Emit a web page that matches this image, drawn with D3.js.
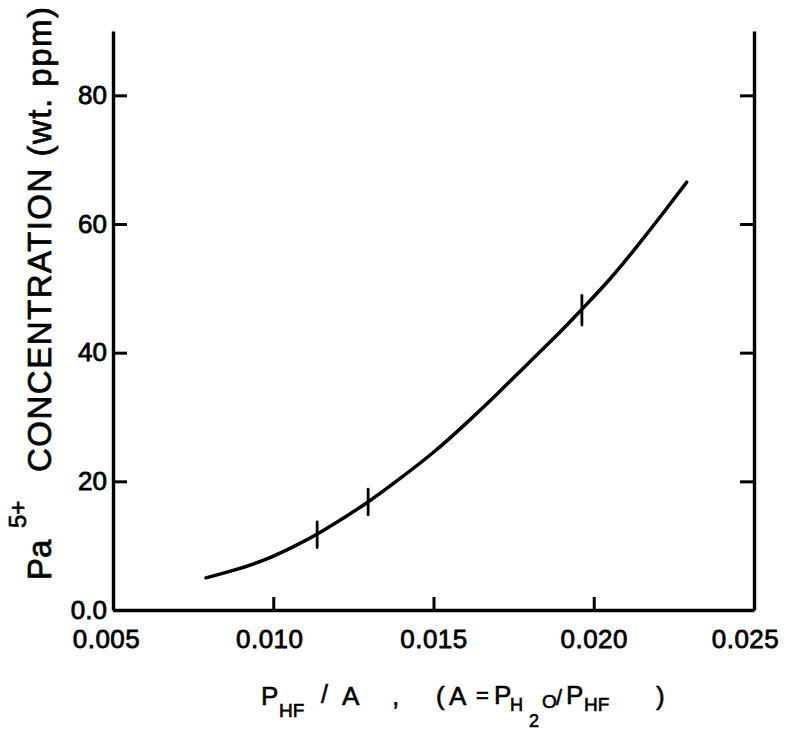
<!DOCTYPE html>
<html>
<head>
<meta charset="utf-8">
<script src="https://cdnjs.cloudflare.com/ajax/libs/d3/7.8.5/d3.min.js"></script>
<style>
    body { margin: 0; background: #fff; }
    svg text { font-family: "Liberation Sans", Arial, sans-serif; fill: #000; }
</style>
</head>
<body>
<svg id="chart" width="787" height="731"></svg>
<script>
// curve: P_HF/A vs Pa5+ concentration (wt. ppm)
var curveX = [0.0079, 0.0086, 0.0097, 0.0107, 0.0114, 0.0130, 0.0140, 0.0150, 0.0160,
              0.0170, 0.0180, 0.0190, 0.0196, 0.0205, 0.0213, 0.0222, 0.0229];
var curveY = [5.0, 5.9, 7.6, 10.0, 11.8, 16.8, 20.6, 24.4, 28.9,
              33.6, 38.6, 43.4, 46.6, 51.3, 56.2, 61.9, 66.5];

// vertical error marks sitting on the curve
var errX = [0.01137, 0.01296, 0.01963];
var errY = [11.7, 16.8, 46.6];
var errD = [2.0, 2.0, 2.3];

var xTicks = [0.005, 0.010, 0.015, 0.020, 0.025];
var yTicks = [0, 20, 40, 60, 80];

var svg = d3.select("#chart");

var x = d3.scaleLinear().domain([0.005, 0.025]).range([113, 754]);
var y = d3.scaleLinear().domain([0, 90]).range([610, 31]);

function styleAxis(g) {
    g.select(".domain").attr("stroke", "#000").attr("stroke-width", 3.4);
    g.selectAll(".tick line").attr("stroke", "#000").attr("stroke-width", 3);
    g.selectAll(".tick text")
        .style("font-size", "26px")
        .style("font-family", "Liberation Sans, Arial, sans-serif")
        .attr("fill", "#000")
        .attr("stroke", "#000")
        .attr("stroke-width", 0.8);
}

// left axis with labels
svg.append("g")
    .attr("transform", "translate(" + x(0.005) + ",0)")
    .call(d3.axisLeft(y)
        .tickValues(yTicks)
        .tickSizeInner(-14)
        .tickSizeOuter(0)
        .tickPadding(6)
        .tickFormat(function (d) { return d === 0 ? "0.0" : d; }))
    .call(styleAxis);

// right axis, ticks only
svg.append("g")
    .attr("transform", "translate(" + x(0.025) + ",0)")
    .call(d3.axisRight(y)
        .tickValues([20, 40, 60, 80])
        .tickSizeInner(-14)
        .tickSizeOuter(0)
        .tickFormat(""))
    .call(styleAxis);

// bottom axis
var xAxis = svg.append("g")
    .attr("transform", "translate(0," + y(0) + ")")
    .call(d3.axisBottom(x)
        .tickValues(xTicks)
        .tickSizeInner(-13)
        .tickSizeOuter(0)
        .tickPadding(20)
        .tickFormat(d3.format(".3f")))
    .call(styleAxis);
xAxis.selectAll(".tick text").attr("letter-spacing", 0.5);
// corner ticks coincide with the frame
xAxis.selectAll(".tick line").filter(function (d) { return d === 0.005 || d === 0.025; }).remove();
xAxis.selectAll(".tick text").filter(function (d) { return d === 0.005; }).attr("dx", -7);
xAxis.selectAll(".tick text").filter(function (d) { return d === 0.010; }).attr("dx", -4);
xAxis.selectAll(".tick text").filter(function (d) { return d === 0.025; }).attr("dx", -9);

// the fitted curve
var pts = curveX.map(function (d, i) { return [d, curveY[i]]; });
var line = d3.line()
    .x(function (d) { return x(d[0]); })
    .y(function (d) { return y(d[1]); })
    .curve(d3.curveBasis);

svg.append("path")
    .datum(pts)
    .attr("d", line)
    .attr("fill", "none")
    .attr("stroke", "#000")
    .attr("stroke-width", 3.5)
    .attr("stroke-linecap", "round");

// error marks
var errs = errX.map(function (d, i) { return {x: d, y: errY[i], e: errD[i]}; });
svg.selectAll(".err")
    .data(errs)
    .enter()
    .append("line")
    .attr("class", "err")
    .attr("x1", function (d) { return x(d.x); })
    .attr("x2", function (d) { return x(d.x); })
    .attr("y1", function (d) { return y(d.y + d.e); })
    .attr("y2", function (d) { return y(d.y - d.e); })
    .attr("stroke", "#000")
    .attr("stroke-width", 2.8)
    .attr("stroke-linecap", "round");

// y axis title (rotated)
var yt = svg.append("g").attr("transform", "translate(51,0) rotate(-90)");
yt.append("text")
    .attr("x", -580).attr("y", 0)
    .style("font-size", "33px")
    .attr("stroke", "#000").attr("stroke-width", 0.7)
    .text("Pa");
yt.append("text")
    .attr("x", -528).attr("y", -25)
    .style("font-size", "24px")
    .attr("stroke", "#000").attr("stroke-width", 0.7)
    .text("5+");
yt.append("text")
    .attr("x", -472).attr("y", 0)
    .attr("textLength", 465)
    .attr("lengthAdjust", "spacing")
    .style("font-size", "33px")
    .attr("stroke", "#000").attr("stroke-width", 0.7)
    .text("CONCENTRATION (wt. ppm)");

// x axis title, pieced together like the hand lettering
var xt = svg.append("g");
function piece(str, px, py, size) {
    xt.append("text")
        .attr("x", px).attr("y", py)
        .style("font-size", size + "px")
        .attr("stroke", "#000").attr("stroke-width", 0.6)
        .text(str);
}
piece("P", 261, 705, 26);
piece("HF", 279, 717, 19);
piece("/", 321, 703, 25);
piece("A", 342, 705, 26);
piece(",", 392, 705, 26);
piece("(", 436, 705, 26);
piece("A", 449, 705, 26);
piece("=", 476, 703, 22);
piece("P", 494, 704, 26);
piece("H", 510, 711, 18);
piece("2", 529, 727, 18);
piece("O", 542, 708, 19);
piece("/", 556, 705, 22);
piece("P", 566, 704, 26);
piece("HF", 584, 711, 19);
piece(")", 656, 705, 26);
</script>
</body>
</html>
